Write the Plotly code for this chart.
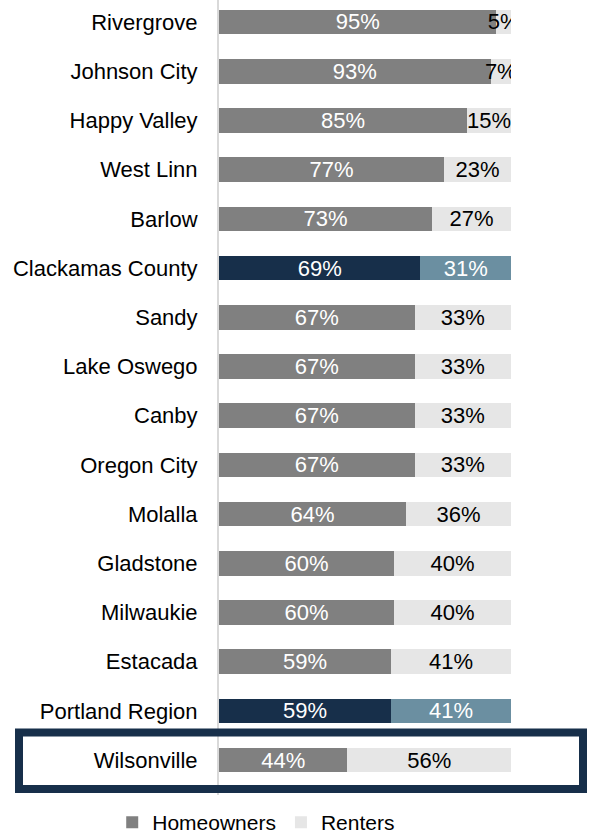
import plotly.graph_objects as go

# Housing tenure by community (share of households)
places = ["Rivergrove", "Johnson City", "Happy Valley", "West Linn", "Barlow",
          "Clackamas County", "Sandy", "Lake Oswego", "Canby", "Oregon City",
          "Molalla", "Gladstone", "Milwaukie", "Estacada", "Portland Region",
          "Wilsonville"]
homeowners = [95, 93, 85, 77, 73, 69, 67, 67, 67, 67, 64, 60, 60, 59, 59, 44]
renters = [5, 7, 15, 23, 27, 31, 33, 33, 33, 33, 36, 40, 40, 41, 41, 56]
benchmarks = ["Clackamas County", "Portland Region"]
focus = "Wilsonville"

FONT = "Liberation Sans Narrow, Arial Narrow, Liberation Sans, sans-serif"
SIZE = 22
OWN, RENT = "#808080", "#e6e6e6"
OWN_HI, RENT_HI = "#172f4a", "#6b8fa1"

own_colors = [OWN_HI if p in benchmarks else OWN for p in places]
rent_colors = [RENT_HI if p in benchmarks else RENT for p in places]
rent_text_colors = ["white" if p in benchmarks else "black" for p in places]

fig = go.Figure()
fig.add_trace(go.Bar(
    y=places, x=homeowners, orientation="h", name="Homeowners",
    marker=dict(color=own_colors, line=dict(width=0)),
    text=[f"{v}%" for v in homeowners], textposition="inside",
    insidetextanchor="middle", textangle=0,
    textfont=dict(family=FONT, size=SIZE, color="white"),
    width=0.5,
))
fig.add_trace(go.Bar(
    y=places, x=renters, orientation="h", name="Renters",
    marker=dict(color=rent_colors, line=dict(width=0)),
    text=[f"{v}%" for v in renters], textposition="inside",
    insidetextanchor="middle", textangle=0,
    textfont=dict(family=FONT, size=SIZE, color=rent_text_colors),
    width=0.5,
))

# Outline around the focus community
idx = places.index(focus)
fig.add_shape(type="rect", xref="paper", yref="y",
              x0=(19 - 219) / 292, x1=(583 - 219) / 292,
              y0=idx - 0.56, y1=idx + 0.59,
              line=dict(color="#172f4a", width=8), fillcolor="rgba(0,0,0,0)",
              layer="above")

fig.update_layout(
    barmode="stack",
    width=589, height=836,
    margin=dict(l=219, r=78, t=0, b=41, autoexpand=False),
    paper_bgcolor="white", plot_bgcolor="white",
    font=dict(family=FONT, size=SIZE, color="black"),
    uniformtext=dict(minsize=SIZE, mode="show"),
    showlegend=True,
    legend=dict(orientation="h", x=0.435, xanchor="center",
                xref="container", yref="container", y=0.016,
                yanchor="middle", font=dict(family=FONT, size=21),
                traceorder="normal", itemwidth=30,
                bgcolor="rgba(0,0,0,0)"),
    xaxis=dict(range=[0, 100], visible=False, fixedrange=True),
    yaxis=dict(categoryorder="array", categoryarray=places,
               range=[15.71, -0.447], showgrid=False, zeroline=False,
               showline=True, linecolor="#d9d9d9", linewidth=2,
               ticks="", ticklabelstandoff=15,
               tickfont=dict(family=FONT, size=SIZE, color="black")),
)

fig.write_html("out.html")
